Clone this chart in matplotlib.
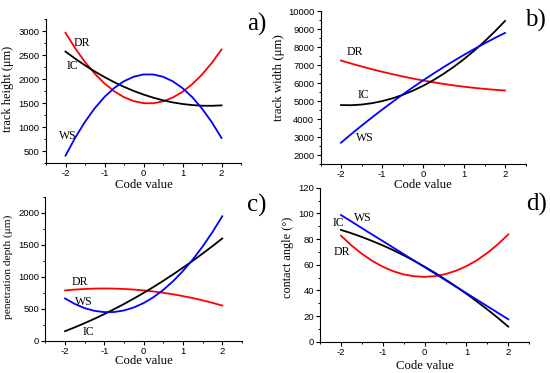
import numpy as np
import matplotlib
matplotlib.use("Agg")
import matplotlib.pyplot as plt
from matplotlib.ticker import MultipleLocator

plt.rcParams["axes.unicode_minus"] = False

# code values where curves were read
code = [-2, -1.75, -1.5, -1.25, -1, -0.75, -0.5, -0.25, 0,
        0.25, 0.5, 0.75, 1, 1.25, 1.5, 1.75, 2]

# a) track height (um)
height_DR = [2971, 2645, 2360, 2116, 1912, 1748, 1625, 1542, 1500,
             1498, 1537, 1617, 1737, 1897, 2098, 2339, 2621]
height_IC = [2578, 2429, 2290, 2162, 2045, 1938, 1841, 1755, 1680,
             1615, 1560, 1516, 1483, 1460, 1447, 1445, 1454]
height_WS = [403, 780, 1111, 1394, 1630, 1818, 1959, 2053, 2100,
             2099, 2052, 1957, 1815, 1625, 1388, 1104, 773]

# b) track width (um)
width_DR = [7260, 7091, 6931, 6779, 6636, 6502, 6376, 6259, 6150,
            6050, 5959, 5876, 5802, 5737, 5680, 5632, 5592]
width_IC = [4778, 4773, 4808, 4882, 4997, 5150, 5344, 5577, 5850,
            6163, 6515, 6907, 7339, 7810, 8321, 8872, 9462]
width_WS = [2686, 3164, 3629, 4081, 4520, 4947, 5361, 5762, 6150,
            6526, 6889, 7239, 7576, 7901, 8213, 8512, 8798]

# c) penetration depth (um)
depth_DR = [789, 802, 811, 817, 819, 817, 811, 802, 789,
            772, 752, 728, 700, 669, 634, 595, 553]
depth_IC = [153, 214, 279, 347, 420, 497, 577, 662, 750,
            842, 939, 1039, 1143, 1251, 1363, 1479, 1599]
depth_WS = [663, 577, 512, 470, 450, 452, 476, 523, 592,
            683, 797, 933, 1091, 1271, 1473, 1698, 1945]

# d) contact angle (deg)
angle_DR = [82.6, 75.0, 68.5, 62.9, 58.4, 54.9, 52.4, 51.0, 50.5,
            51.1, 52.7, 55.3, 58.9, 63.5, 69.2, 75.9, 83.6]
angle_IC = [87.1, 84.5, 81.6, 78.4, 75.0, 71.3, 67.3, 63.0, 58.4,
            53.6, 48.4, 43.0, 37.3, 31.3, 25.1, 18.6, 11.7]
angle_WS = [98.7, 93.6, 88.5, 83.4, 78.4, 73.3, 68.2, 63.1, 58.1,
            53.0, 47.9, 42.8, 37.8, 32.7, 27.6, 22.5, 17.5]

serif = "Liberation Serif"
sans = "Liberation Sans"

fig = plt.figure(figsize=(5.5, 3.73), dpi=100)

W, H = 550.0, 373.0
def add_ax(l, r, t, b):
    return fig.add_axes([l / W, 1 - b / H, (r - l) / W, (b - t) / H])

ax_a = add_ax(46, 241, 19.4, 163)
ax_b = add_ax(320.5, 525.5, 11.3, 164)
ax_c = add_ax(45.4, 241.9, 196.7, 341)
ax_d = add_ax(320.1, 529.2, 187.7, 341.7)

panels = [
    (ax_a, height_DR, height_IC, height_WS, (250, 3250), 500, 250, "track height (\u03bcm)", 8.8),
    (ax_b, width_DR, width_IC, width_WS, (1500, 10000), 1000, 500, "track width (\u03bcm)", 9.3),
    (ax_c, depth_DR, depth_IC, depth_WS, (0, 2250), 500, 250, "penetration depth (\u03bcm)", 8.2),
    (ax_d, angle_DR, angle_IC, angle_WS, (0, 120), 20, 10, "contact angle (\u00b0)", 8.8),
]

for ax, dr, ic, ws, ylim, major, minor, ylab, ysize in panels:
    ax.plot(code, dr, color="#ff0000", lw=1.3)
    ax.plot(code, ic, color="black", lw=1.3)
    ax.plot(code, ws, color="#0000ff", lw=1.3)
    ax.set_xlim(-2.5, 2.5)
    ax.set_ylim(*ylim)
    ax.xaxis.set_major_locator(MultipleLocator(1))
    ax.xaxis.set_minor_locator(MultipleLocator(0.5))
    ax.yaxis.set_major_locator(MultipleLocator(major))
    ax.yaxis.set_minor_locator(MultipleLocator(minor))
    ax.spines["top"].set_visible(False)
    ax.spines["right"].set_visible(False)
    for s in ("left", "bottom"):
        ax.spines[s].set_linewidth(0.8)
    ax.tick_params(which="major", direction="out", length=3, width=0.8,
                   labelsize=6.8, pad=1.5)
    ax.tick_params(which="minor", direction="out", length=1.6, width=0.7)
    for lbl in ax.get_xticklabels() + ax.get_yticklabels():
        lbl.set_fontfamily(sans)
    ax.set_xlabel("Code value", fontfamily=serif, fontsize=9.2)
    ax.set_ylabel(ylab, fontfamily=serif, fontsize=ysize)
    ax.patch.set_alpha(0)

ax_a.xaxis.set_label_coords(0.5, -0.152)
ax_b.xaxis.set_label_coords(0.5, -0.136)
ax_c.xaxis.set_label_coords(0.5, -0.142)
ax_d.xaxis.set_label_coords(0.5, -0.16)
ax_a.yaxis.set_label_coords(-0.193, 0.514)
ax_b.yaxis.set_label_coords(-0.202, 0.566)
ax_c.yaxis.set_label_coords(-0.189, 0.515)
ax_d.yaxis.set_label_coords(-0.155, 0.547)
for ax in (ax_a, ax_b, ax_c, ax_d):
    ax.xaxis.label.set_va("center")
    ax.yaxis.label.set_va("center")

# curve labels
lab = dict(fontfamily=serif, fontsize=8.5, ha="center", va="center")
ax_a.text(-1.57, 2756, "DR", **lab)
ax_a.text(-1.81, 2269, "IC", **lab)
ax_a.text(-1.95, 808, "WS", **lab)
ax_b.text(-1.66, 7734, "DR", **lab)
ax_b.text(-1.46, 5323, "IC", **lab)
ax_b.text(-1.41, 2968, "WS", **lab)
ax_c.text(-1.62, 924, "DR", **lab)
ax_c.text(-1.53, 603, "WS", **lab)
ax_c.text(-1.41, 136, "IC", **lab)
ax_d.text(-2.06, 92.2, "IC", **lab)
ax_d.text(-1.49, 96.1, "WS", **lab)
ax_d.text(-1.98, 70.1, "DR", **lab)

# panel letters
plab = dict(fontfamily=serif, fontsize=18, ha="center", va="center")
fig.text(256.7 / W, 1 - 24 / H, "a)", **plab)
fig.text(535 / W, 1 - 20 / H, "b)", **plab)
fig.text(256.7 / W, 1 - 205.7 / H, "c)", **plab)
fig.text(536.7 / W, 1 - 204.3 / H, "d)", **plab)

fig.savefig("out.png", dpi=100)
